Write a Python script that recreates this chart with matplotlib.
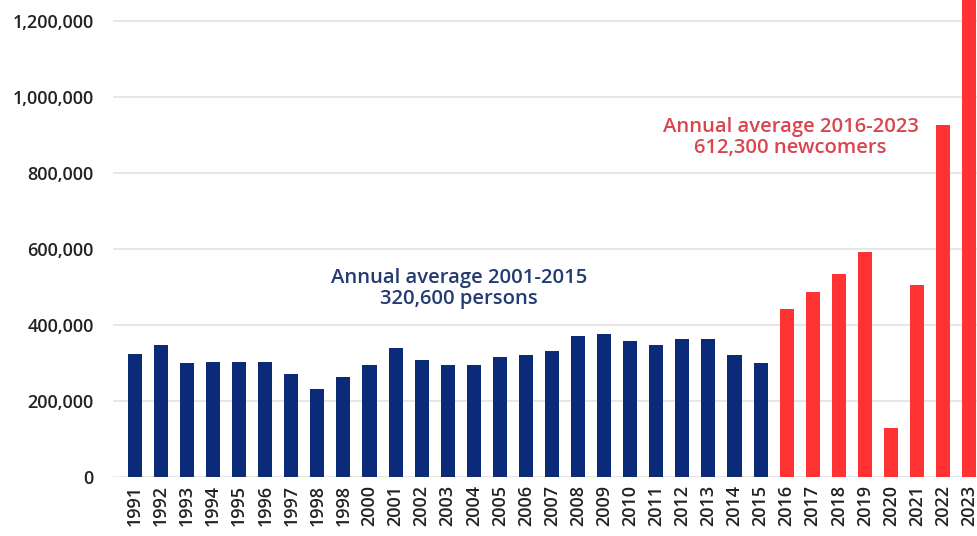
import matplotlib
matplotlib.use("Agg")
import matplotlib.pyplot as plt
from matplotlib.ticker import FuncFormatter

years = ["1991", "1992", "1993", "1994", "1995", "1996", "1997", "1998", "1998",
         "2000", "2001", "2002", "2003", "2004", "2005", "2006", "2007", "2008",
         "2009", "2010", "2011", "2012", "2013", "2014", "2015", "2016", "2017",
         "2018", "2019", "2020", "2021", "2022", "2023"]
values = [324000, 347000, 300000, 303000, 303000, 303000, 271000, 232000, 263000,
          295000, 340000, 308000, 295000, 295000, 316000, 321000, 332000, 371000,
          376000, 358000, 347000, 363000, 363000, 321000, 300000, 442000, 487000,
          534000, 592000, 129000, 505000, 926000, 1283000]
n_blue = 25
blue = "#0b2b78"
red = "#ff3333"
colors = [blue] * n_blue + [red] * (len(years) - n_blue)
yticks = [0, 200000, 400000, 600000, 800000, 1000000, 1200000]

plt.rcParams['font.family'] = ['Open Sans', 'DejaVu Sans']

W, H = 977, 536
fig = plt.figure(figsize=(W / 100, H / 100), dpi=100)
left_px, right_px, bottom_px, top_px = 113, 991, 477, 0
ax = fig.add_axes([left_px / W, 1 - bottom_px / H, (right_px - left_px) / W, (bottom_px - top_px) / H])

x = list(range(len(years)))
ax.bar(x, values, width=0.54, color=colors, zorder=3)
ax.set_xlim(-0.84, len(years) - 1 + 0.84)
ax.set_ylim(0, 1255000)
ax.set_yticks(yticks)
ax.yaxis.set_major_formatter(FuncFormatter(lambda v, p: f"{int(v):,}"))
ax.set_xticks(x)
ax.set_xticklabels(years, rotation=90)
ax.tick_params(axis='y', length=0, pad=14, labelsize=13, labelcolor="#222222")
ax.tick_params(axis='x', length=0, pad=6, labelsize=13, labelcolor="#222222")
for lbl in ax.get_yticklabels() + ax.get_xticklabels():
    lbl.set_fontweight('semibold')
ax.grid(axis='y', color="#e3e3e3", linewidth=1.2, zorder=0)
ax.grid(axis='x', visible=False)
for s in ax.spines.values():
    s.set_visible(False)

ax.text(12.43, 495000, "Annual average 2001-2015\n320,600 persons", ha='center', va='center',
        fontsize=14.6, fontweight='semibold', color="#233a72", linespacing=1.05)
ax.text(25.15, 893000, "Annual average 2016-2023\n612,300 newcomers", ha='center', va='center',
        fontsize=14.6, fontweight='semibold', color="#d9464f", linespacing=1.05)

fig.savefig("out.png", dpi=100)
